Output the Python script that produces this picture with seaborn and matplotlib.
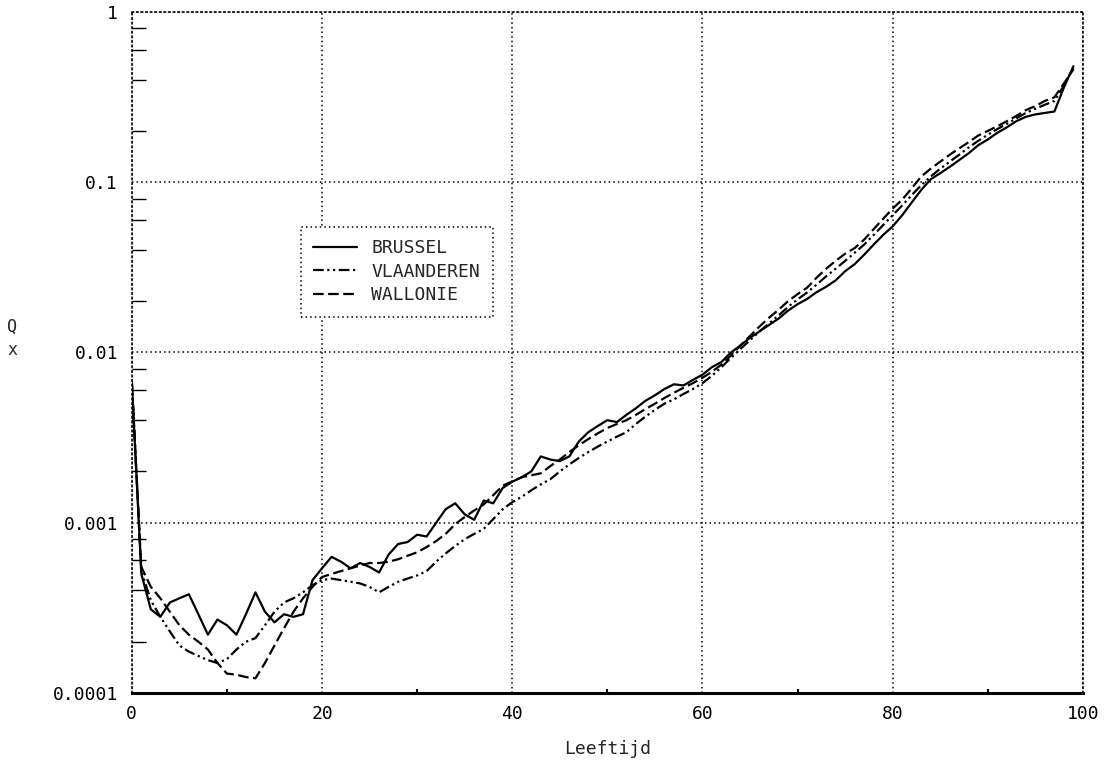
#### Sterftequotienten per gewest (Q_x naar leeftijd), log-schaal
import numpy as np
import pandas as pd
import matplotlib
matplotlib.use("Agg")
import matplotlib.pyplot as plt
import seaborn as sns
from matplotlib.ticker import FixedLocator, NullFormatter

#%% data (one value per age 0..99)
ages = list(range(100))

brussel = [0.0068, 0.00050, 0.00031, 0.00028, 0.00034, 0.00036, 0.00038, 0.00029, 0.00022, 0.00027,
           0.00025, 0.00022, 0.00029, 0.00039, 0.00030, 0.00026, 0.00029, 0.00028, 0.00029, 0.00046,
           0.00054, 0.00063, 0.00059, 0.00054, 0.00058, 0.00055, 0.00051, 0.00065, 0.00075, 0.00077,
           0.00085, 0.00083, 0.00100, 0.00120, 0.00130, 0.00112, 0.00104, 0.00135, 0.00130, 0.00160,
           0.00174, 0.00185, 0.00200, 0.00245, 0.00235, 0.00230, 0.00245, 0.00300, 0.00340, 0.00370,
           0.00400, 0.00390, 0.00430, 0.00470, 0.00520, 0.00560, 0.00610, 0.00650, 0.00640, 0.00690,
           0.00740, 0.00820, 0.00880, 0.01000, 0.01100, 0.01220, 0.01330, 0.01450, 0.01580, 0.01760,
           0.01920, 0.02060, 0.02260, 0.02430, 0.02650, 0.03000, 0.03300, 0.03750, 0.04300, 0.04900,
           0.05500, 0.06400, 0.07600, 0.09000, 0.10400, 0.11300, 0.12300, 0.13500, 0.14800, 0.16500,
           0.17800, 0.19500, 0.21000, 0.22800, 0.24200, 0.25000, 0.25500, 0.26000, 0.36000, 0.48000]

vlaanderen = [0.0070, 0.00052, 0.00035, 0.00028, 0.00023, 0.00019, 0.000175, 0.000165, 0.000156, 0.000150,
              0.000158, 0.000180, 0.000200, 0.000210, 0.000250, 0.000300, 0.000340, 0.000360, 0.000390, 0.000430,
              0.000460, 0.000470, 0.000460, 0.000450, 0.000440, 0.000420, 0.000390, 0.000420, 0.000450, 0.000470,
              0.000490, 0.000520, 0.000590, 0.000660, 0.000730, 0.000800, 0.000860, 0.000920, 0.001050, 0.001200,
              0.001320, 0.001420, 0.001550, 0.001680, 0.001800, 0.002000, 0.002200, 0.002400, 0.002600, 0.002800,
              0.003000, 0.003200, 0.003400, 0.003800, 0.004200, 0.004600, 0.005000, 0.005300, 0.005700, 0.006100,
              0.006600, 0.007300, 0.008200, 0.009300, 0.010500, 0.011800, 0.013300, 0.014800, 0.016500, 0.018500,
              0.020500, 0.022500, 0.025000, 0.028000, 0.031000, 0.034500, 0.038500, 0.043000, 0.049000, 0.056000,
              0.064000, 0.073000, 0.084000, 0.096000, 0.108000, 0.120000, 0.132000, 0.145000, 0.160000, 0.175000,
              0.190000, 0.205000, 0.220000, 0.237000, 0.255000, 0.270000, 0.285000, 0.300000, 0.370000, 0.470000]

wallonie = [0.0065, 0.00055, 0.00042, 0.00036, 0.00030, 0.00025, 0.00022, 0.00020, 0.00018, 0.00015,
            0.00013, 0.000128, 0.000124, 0.000122, 0.00015, 0.00019, 0.00024, 0.00030, 0.00036, 0.00042,
            0.00048, 0.00050, 0.00052, 0.00054, 0.00056, 0.00058, 0.00058, 0.00059, 0.00061, 0.00064,
            0.00067, 0.00072, 0.00078, 0.00086, 0.00098, 0.00108, 0.00118, 0.00128, 0.00145, 0.00165,
            0.00175, 0.00185, 0.00190, 0.00195, 0.00215, 0.00235, 0.00260, 0.00285, 0.00310, 0.00335,
            0.00360, 0.00380, 0.00400, 0.00430, 0.00465, 0.00500, 0.00540, 0.00580, 0.00620, 0.00660,
            0.00710, 0.00770, 0.00850, 0.00960, 0.01100, 0.01250, 0.01420, 0.01600, 0.01780, 0.02000,
            0.02200, 0.02400, 0.02750, 0.03100, 0.03450, 0.03800, 0.04100, 0.04600, 0.05300, 0.06100,
            0.07000, 0.07900, 0.09200, 0.10800, 0.12000, 0.13200, 0.14500, 0.15800, 0.17200, 0.18800,
            0.20000, 0.21300, 0.22800, 0.24500, 0.26500, 0.28000, 0.30000, 0.31500, 0.38000, 0.46000]

regions = ["BRUSSEL", "VLAANDEREN", "WALLONIE"]
yticks = [0.0001, 0.001, 0.01, 0.1, 1]
yticklabels = ["0.0001", "0.001", "0.01", "0.1", "1"]
xticks = [0, 20, 40, 60, 80, 100]

df = pd.DataFrame({
    "Leeftijd": ages * 3,
    "Qx": brussel + vlaanderen + wallonie,
    "gewest": [r for r in regions for _ in ages],
})

#%% figure appearance
sns.set_theme(style="white")
plt.rcParams['font.family'] = ['DejaVu Sans Mono', 'DejaVu Sans']
dotted = (0, (1, 2))

fig = plt.figure(figsize=(11.17, 7.67), dpi=100)
ax = fig.add_axes([0.118, 0.0965, 0.8515, 0.888])

line_dashes = {"BRUSSEL": "", "VLAANDEREN": (4.8, 1.6, 1, 1.6, 1, 1.6), "WALLONIE": (4.8, 2.0)}
sns.lineplot(data=df, x="Leeftijd", y="Qx", hue="gewest", style="gewest",
             palette=["black"] * 3, dashes=line_dashes, linewidth=1.6, ax=ax, legend=False)

ax.set_yscale("log")
ax.set_xlim(0, 100)
ax.set_ylim(0.0001, 1)

ax.yaxis.set_major_locator(FixedLocator(yticks))
ax.set_yticklabels(yticklabels)
ax.yaxis.set_minor_locator(FixedLocator([m * 10.0 ** e for e in range(-4, 0) for m in (2, 4, 6, 8)]))
ax.yaxis.set_minor_formatter(NullFormatter())
ax.xaxis.set_major_locator(FixedLocator(xticks))
ax.xaxis.set_minor_locator(FixedLocator([10, 30, 50, 70, 90]))

ax.tick_params(axis="both", which="major", length=0, labelsize=13, colors="black")
ax.tick_params(axis="y", which="major", pad=10)
ax.tick_params(axis="x", which="major", pad=9)
ax.tick_params(axis="y", which="minor", direction="in", length=10, width=1.0, color="black", left=True)
ax.tick_params(axis="x", which="minor", direction="in", length=3, width=1.5, color="black", bottom=True)

ax.grid(True, which="major", color="black", linestyle=dotted, linewidth=1.1)
for side in ["top", "left", "right"]:
    ax.spines[side].set_linestyle(dotted)
    ax.spines[side].set_linewidth(1.1)
    ax.spines[side].set_color("black")
ax.spines["bottom"].set_linewidth(2.2)
ax.spines["bottom"].set_color("black")

ax.set_xlabel("Leeftijd", fontsize=13, labelpad=12)
ax.set_ylabel("Q\nx", fontsize=12, rotation=0, linespacing=1.4)
ax.yaxis.set_label_coords(-0.126, 0.49)

handles = ax.get_lines()[:3]
leg = ax.legend(handles, regions, loc="upper left", bbox_to_anchor=(0.1777, 0.6847),
                fontsize=13, handlelength=2.4, handletextpad=0.8, labelspacing=0.3,
                borderpad=0.7, borderaxespad=0, fancybox=False, framealpha=1,
                edgecolor="black", facecolor="white")
leg.get_frame().set_linestyle(dotted)
leg.get_frame().set_linewidth(1.1)

plt.savefig("out.png", dpi=100)
